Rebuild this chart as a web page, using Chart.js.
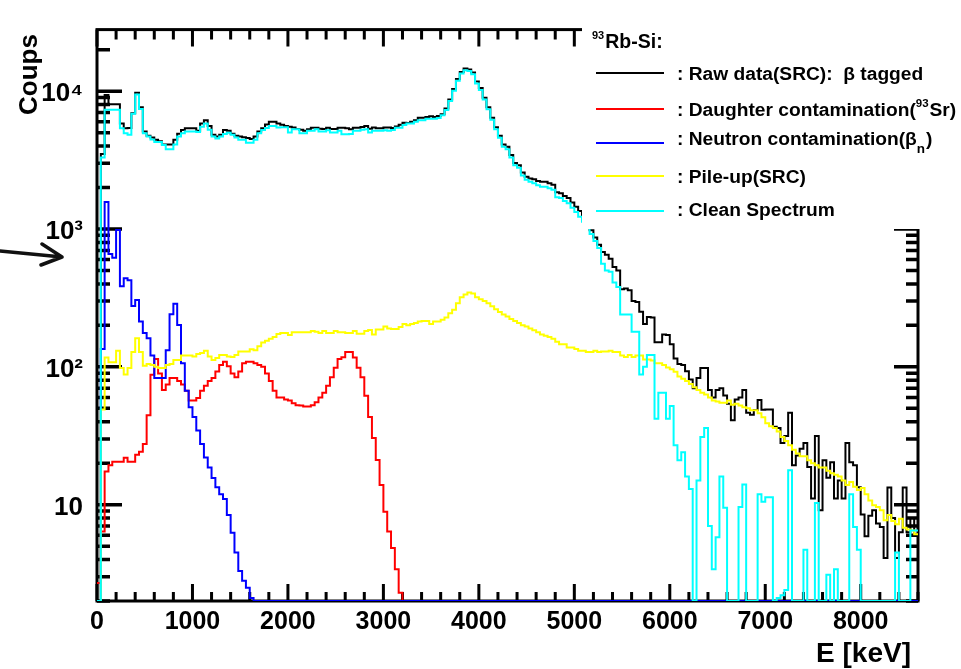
<!DOCTYPE html>
<html>
<head>
<meta charset="utf-8">
<script src="https://cdn.jsdelivr.net/npm/chart.js@4/dist/chart.umd.min.js"></script>
<style>
  html, body { margin: 0; padding: 0; background: #fff; }
  #wrap { width: 961px; height: 669px; position: relative; }
  canvas { display: block; }
</style>
</head>
<body>
<div id="wrap"><canvas id="spectrum" width="961" height="669"></canvas></div>
<script>
// Energy binning of the Si detector spectra (keV)
const binWidthKeV = 40;
const nBins = 215;           // 0 .. 8600 keV

// Raw data (SRC), beta tagged
const rawCounts = [
  0,3500,9370,8060,8060,8060,5830,5380,5400,6930,
  9730,7640,5100,4760,4620,4450,4340,4110,4110,4110,
  4450,4920,5240,5380,5380,5380,5170,5830,6160,5590,
  4840,4700,4840,5240,5160,4920,4760,4700,4630,4580,
  4500,4700,5100,5380,5740,6000,6000,5830,5700,5600,
  5530,5450,5330,5250,5170,5300,5440,5440,5350,5330,
  5440,5330,5330,5440,5440,5380,5300,5440,5440,5500,
  5600,5350,5450,5380,5380,5450,5450,5400,5550,5700,
  5900,5880,6000,6160,6420,6420,6500,6570,6500,6600,
  6800,7500,8700,10400,12250,13800,14600,14400,13650,11750,
  10550,8970,7640,6420,5470,4760,4110,3950,3440,3020,
  2900,2570,2400,2330,2300,2230,2200,2200,2150,2100,
  1850,1820,1740,1680,1560,1450,1350,1250,1120,980,
  870,770,680,650,610,530,500,365,370,360,
  300,295,251,205,230,228,151,151,172,170,
  146,115,105,103,93,81,70,83,98,98,
  68,60,68,70,62,54,41,58,60,68,
  46.5,45,48.7,57.5,48.8,49,49,36.8,36,28,
  31.5,46.5,19.3,22.7,25.5,28,18.8,11.1,31.5,9.1,
  21,15.7,20.3,11.1,15,11.1,28,20.3,19.3,13.4,
  8.5,5.9,8.3,9.1,7.3,6.9,4.1,13.3,8,4.1,
  6.3,13.3,6.3,8,6
];

// Daughter contamination (93Sr), non-empty up to 3200 keV
const daughterCounts = [
  2.7,6.4,17.4,19.3,20.5,20.5,20.5,21.9,20.5,20.5,
  23,24.2,27.5,44.6,87.5,114,89.5,67.8,74.5,83,
  83,79,74.5,67,57,57,59.5,67,73,79,
  83,92.5,103,109,101,89.5,84,92.5,106,109,
  109,106,103,100,89.5,79,67,60,60,58,
  57,54.5,52.7,52.5,51.5,51.5,52.7,55.4,60,65,
  73,84,98.6,114,117.5,128,128,117,98.6,84,
  61.6,43.2,30.4,21.1,13.9,8.9,6.4,4.85,3.4,2.3
];

// Neutron contamination (beta-n), non-empty up to 1640 keV
const neutronCounts = [
  0,135,1570,660,620,985,385,440,425,277,
  306,213,176,161,121,83,83,83,132,241,
  287,201,106,67,51,43.2,34.5,27.5,22,18.6,
  15.6,13.4,11.9,11.0,8.4,6.25,4.5,3.3,2.8,2.5,
  2.1
];

// Pile-up (SRC)
const pileupCounts = [
  0,49,117,108,108,131,98,88,98,128,
  161,128,102,105,103,100,98,98,103,105,
  112,112,121,121,121,119,124,126,131,119,
  112,116,122,122,119,118,122,129,129,129,
  134,132,141,150,155,160,165,173,176,176,
  170,178,178,178,178,178,182,180,176,182,
  176,176,182,178,178,176,176,182,174,174,
  182,185,172,187,187,196,190,188,188,195,
  205,200,205,208,213,215,215,205,213,213,
  220,228,245,260,290,320,335,346,340,320,
  310,300,290,275,262,250,240,232,222,215,
  208,200,196,190,184,178,172,168,165,160,
  152,146,146,138,138,135,131,131,128,128,
  131,128,129,129,131,128,128,121,118,122,
  118,121,121,113,113,111,106,106,103,99,
  96,92,85,82,79,75,71,68,65,63,
  60,57,56,55,55,57,53,54,52.5,51,
  50,48.5,48.5,46,43,39,37,36,34,31,
  29,27,25,23.5,22.5,22.5,21,20,19.3,18.6,
  18.6,17.6,16.9,16.5,16,15,13.9,14.6,13.5,12.8,
  13.2,11.9,10.7,9.9,9.6,9.1,7.7,8.4,7.6,7.2,
  7.9,6.8,6.6,6.5,6.1
];

// Clean spectrum
const cleanCounts = [
  0,3300,7350,7350,7350,7350,5380,4960,4840,6850,
  9470,7430,4960,4700,4460,4290,4290,4070,3800,3800,
  4110,4700,4960,5100,5100,5100,5050,5530,5830,5260,
  4700,4530,4700,4900,5000,4830,4620,4450,4450,4230,
  4230,4450,4960,5240,5400,5590,5590,5450,5480,5480,
  5010,5290,5290,4960,4960,5170,5170,5290,5100,5100,
  5200,5010,5010,5170,4880,4880,4900,5170,5170,5250,
  5290,5010,5170,5170,5170,5200,5170,5240,5430,5430,
  5680,5830,5830,6000,6160,6160,6320,6320,6320,6390,
  6680,7300,8500,10100,11900,13450,14200,14000,13300,11400,
  10200,8700,7400,6200,5300,4600,3950,3800,3300,2900,
  2780,2450,2280,2200,2150,2080,2030,2030,1980,1930,
  1700,1680,1600,1540,1430,1330,1230,1130,1030,920,
  820,730,560,500,490,410,380,240,240,240,
  180,180,88,100,122,122,42,65,65,42,
  52,27,21,24,16,13,0,15,31,36,
  7,3.4,5.8,16,9.5,0,0,0,9.6,14,
  0,0,0,11.9,10.5,11.3,11.3,0,2.1,2.2,
  2.4,17.8,0,0,0,4.7,0,0,10.3,0,
  0,3.1,0,3.4,0,0,0,11.9,6.9,4.7,
  0,0,0,0,0,0,0,0,0,4.5,
  0,0,0,6.5,6.5
];

// Axis ticks and labels
const xTickValues = [0, 1000, 2000, 3000, 4000, 5000, 6000, 7000, 8000];
const yTickValues = [10, 100, 1000, 10000];
const yTickLabels = ['10', '10\u00B2', '10\u00B3', '10\u2074'];

const xMin = 0, xMax = 8600;
const yMin = 2, yMax = 28000;

const FONT = '"Liberation Sans", Arial, Helvetica, sans-serif';

// Histogram outline points: one point per lower bin edge plus the upper edge.
// Empty / under-range bins are drawn on the frame floor, as ROOT does.
function histPoints(counts) {
  const pts = [];
  for (let i = 0; i < nBins; i++) {
    const v = i < counts.length ? counts[i] : 0;
    pts.push({ x: i * binWidthKeV, y: Math.max(v, yMin) });
  }
  pts.push({ x: nBins * binWidthKeV, y: pts[pts.length - 1].y });
  return pts;
}

// Frame with ROOT-style inner ticks on all four sides
const frameTicks = {
  id: 'frameTicks',
  beforeDatasetsDraw(chart) {
    const { ctx, chartArea: a, scales: { x, y } } = chart;
    ctx.save();
    ctx.strokeStyle = '#000';
    ctx.lineCap = 'butt';

    ctx.lineWidth = 3.5;
    ctx.beginPath();
    for (let d = 1; d <= 10000; d *= 10) {
      for (let m = 1; m <= 9; m++) {
        const v = m * d;
        if (v < yMin || v > yMax) continue;
        const py = y.getPixelForValue(v);
        const left = m === 1 ? 25 : 13;
        const right = m === 1 ? 24 : 12;
        ctx.moveTo(a.left, py); ctx.lineTo(a.left + left, py);
        ctx.moveTo(a.right, py); ctx.lineTo(a.right - right, py);
      }
    }
    ctx.stroke();

    ctx.lineWidth = 3;
    ctx.beginPath();
    for (let e = xMin; e <= xMax; e += 200) {
      const px = x.getPixelForValue(e);
      const major = e % 1000 === 0;
      ctx.moveTo(px, a.bottom); ctx.lineTo(px, a.bottom - (major ? 17 : 9));
      ctx.moveTo(px, a.top); ctx.lineTo(px, a.top + (major ? 17 : 10));
    }
    ctx.stroke();

    ctx.lineWidth = 3;
    ctx.strokeRect(a.left, a.top, a.right - a.left, a.bottom - a.top);
    ctx.restore();
  }
};

// Legend entries: sample line height, text baseline and text pieces
const seriesLegend = [
  { color: '#000000', lineY: 73, base: 80,
    parts: [{ t: ': Raw data(SRC):  \u03B2 tagged' }] },
  { color: '#ff0000', lineY: 109, base: 116,
    parts: [{ t: ': Daughter contamination(' }, { t: '93', sup: true }, { t: 'Sr)' }] },
  { color: '#0000ff', lineY: 143, base: 145,
    parts: [{ t: ': Neutron contamination(\u03B2' }, { t: 'n', sub: true }, { t: ')' }] },
  { color: '#ffff00', lineY: 176, base: 183,
    parts: [{ t: ': Pile-up(SRC)' }] },
  { color: '#00ffff', lineY: 211, base: 215.5,
    parts: [{ t: ': Clean Spectrum' }] }
];

const overlay = {
  id: 'overlay',
  afterDatasetsDraw(chart) {
    const ctx = chart.ctx;
    ctx.save();
    // opaque legend pad
    ctx.fillStyle = '#fff';
    ctx.fillRect(582, 12, 961 - 582, 229 - 12);

    ctx.fillStyle = '#000';
    ctx.textBaseline = 'alphabetic';
    ctx.textAlign = 'left';
    let hx = 592;
    ctx.font = 'bold 11px ' + FONT;
    ctx.fillText('93', hx, 39);
    hx += ctx.measureText('93').width + 1;
    ctx.font = 'bold 19.5px ' + FONT;
    ctx.fillText('Rb-Si:', hx, 48);

    for (const row of seriesLegend) {
      ctx.strokeStyle = row.color;
      ctx.lineWidth = 2;
      ctx.beginPath();
      ctx.moveTo(596, row.lineY); ctx.lineTo(664, row.lineY);
      ctx.stroke();
      let tx = 677;
      for (const p of row.parts) {
        if (p.sup) {
          ctx.font = 'bold 11.5px ' + FONT;
          ctx.fillText(p.t, tx, row.base - 9);
        } else if (p.sub) {
          ctx.font = 'bold 13.5px ' + FONT;
          ctx.fillText(p.t, tx, row.base + 8);
        } else {
          ctx.font = 'bold 19.2px ' + FONT;
          ctx.fillText(p.t, tx, row.base);
        }
        tx += ctx.measureText(p.t).width + (p.sup || p.sub ? 1 : 0);
      }
    }
    ctx.restore();
  },
  afterDraw(chart) {
    const ctx = chart.ctx;
    ctx.save();
    ctx.fillStyle = '#000';
    ctx.font = 'bold 26px ' + FONT;
    ctx.textBaseline = 'alphabetic';
    ctx.textAlign = 'left';
    ctx.translate(37, 115);
    ctx.rotate(-Math.PI / 2);
    ctx.fillText('Coups', 0, 0);
    ctx.restore();

    ctx.save();
    ctx.fillStyle = '#000';
    ctx.font = 'bold 28px ' + FONT;
    ctx.textAlign = 'right';
    ctx.textBaseline = 'alphabetic';
    ctx.fillText('E [keV]', 911, 662);
    ctx.restore();

    // pointer arrow in the left margin
    ctx.save();
    ctx.strokeStyle = '#111';
    ctx.lineWidth = 3.5;
    ctx.lineCap = 'round';
    ctx.lineJoin = 'round';
    ctx.beginPath();
    ctx.moveTo(0, 251); ctx.lineTo(62, 257);
    ctx.moveTo(42, 244); ctx.lineTo(62, 257); ctx.lineTo(41, 265);
    ctx.stroke();
    ctx.restore();
  }
};

const lineStyle = (color, order) => ({
  borderColor: color, borderWidth: 2, order, pointRadius: 0,
  stepped: true, tension: 0, fill: false,
  borderJoinStyle: 'miter', borderCapStyle: 'butt'
});

new Chart(document.getElementById('spectrum'), {
  type: 'line',
  data: {
    datasets: [
      { label: 'Raw data(SRC): \u03B2 tagged', data: histPoints(rawCounts), ...lineStyle('#000000', 5) },
      { label: 'Daughter contamination(93Sr)', data: histPoints(daughterCounts), ...lineStyle('#ff0000', 4) },
      { label: 'Neutron contamination(\u03B2n)', data: histPoints(neutronCounts), ...lineStyle('#0000ff', 3) },
      { label: 'Pile-up(SRC)', data: histPoints(pileupCounts), ...lineStyle('#ffff00', 2) },
      { label: 'Clean Spectrum', data: histPoints(cleanCounts), ...lineStyle('#00ffff', 1) }
    ]
  },
  options: {
    responsive: false,
    animation: false,
    devicePixelRatio: 1,
    layout: { padding: { left: 0, right: 43, top: 10, bottom: 0 } },
    plugins: { legend: { display: false }, tooltip: { enabled: false } },
    scales: {
      x: {
        type: 'linear', min: xMin, max: xMax,
        grid: { display: false, drawTicks: false },
        border: { display: false },
        afterFit(s) { s.height = 68; },
        afterBuildTicks(s) { s.ticks = xTickValues.map(v => ({ value: v })); },
        ticks: {
          autoSkip: false, maxRotation: 0, padding: 6, color: '#000',
          font: { family: FONT, size: 25, weight: 'bold' },
          callback: (v) => String(v)
        }
      },
      y: {
        type: 'logarithmic', min: yMin, max: yMax,
        grid: { display: false, drawTicks: false },
        border: { display: false },
        afterFit(s) { s.width = 97; },
        afterBuildTicks(s) { s.ticks = yTickValues.map(v => ({ value: v })); },
        ticks: {
          autoSkip: false, padding: 14, labelOffset: 3, color: '#000',
          font: { family: FONT, size: 26, weight: 'bold' },
          callback: (v, i) => yTickLabels[i]
        }
      }
    }
  },
  plugins: [frameTicks, overlay]
});
</script>
</body>
</html>
